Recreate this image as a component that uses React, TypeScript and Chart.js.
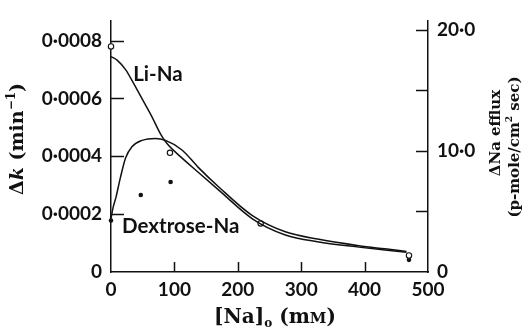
import React, { useEffect, useRef } from 'react';
import { Chart, registerables } from 'chart.js';
Chart.register(...registerables);

// ---- data ----
const liNaCurveX = [0, 10, 23, 35, 50, 65, 78, 88, 110, 138, 170, 223, 275, 328, 391, 432, 466];
const liNaCurveY = [0.000745, 0.000732, 0.0007, 0.000655, 0.000595, 0.000535, 0.000478, 0.000445, 0.000398, 0.000344, 0.000283, 0.000184, 0.000128, 0.000104, 0.000086, 0.000076, 0.000068];
const dexCurveX = [0, 3, 8, 15, 23, 33, 49, 70, 86, 112, 138, 170, 223, 275, 328, 391, 432, 466];
const dexCurveY = [0.000185, 0.00022, 0.00026, 0.000328, 0.000394, 0.000433, 0.000455, 0.000462, 0.000455, 0.000422, 0.000361, 0.000294, 0.000195, 0.000139, 0.000113, 0.000091, 0.00008, 0.000071];
const liNaPointsX = [0, 93, 236, 470];
const liNaPointsY = [0.00078, 0.000412, 0.000168, 0.000057];
const dexPointsX = [0, 47, 94, 236, 470];
const dexPointsY = [0.000178, 0.000266, 0.000311, 0.000168, 0.000042];

const xTicks = [0, 100, 200, 300, 400, 500];
const xTickLabels = ['0', '100', '200', '300', '400', '500'];
const xTickMarks = [100, 200, 300, 400];
const leftTicks = [0, 0.0002, 0.0004, 0.0006, 0.0008];
const leftTickLabels = ['0', '0·0002', '0·0004', '0·0006', '0·0008'];
const leftTickMarks = [0.0002, 0.0004, 0.0006, 0.0008];
const rightTicks = [0, 10, 20];
const rightTickLabels = ['0', '10·0', '20·0'];
const rightTickMarks = [5, 10, 15, 20];

const xMax = 500;
const leftMax = 0.00087;
const rightMax = 20.79;

const INK = '#111';
const SANS = 'Lato, "Open Sans", sans-serif';
const SERIF = '"DejaVu Serif", "Liberation Serif", serif';

type Piece = { t: string; font: string; dy?: number };

function drawPieces(ctx: CanvasRenderingContext2D, pieces: Piece[], cx: number, cy: number, rot: number) {
  ctx.save();
  ctx.translate(cx, cy);
  ctx.rotate(rot);
  ctx.textBaseline = 'middle';
  ctx.textAlign = 'left';
  let total = 0;
  const widths = pieces.map((p) => {
    ctx.font = p.font;
    const w = ctx.measureText(p.t).width;
    total += w;
    return w;
  });
  let x = -total / 2;
  pieces.forEach((p, i) => {
    ctx.font = p.font;
    ctx.fillText(p.t, x, p.dy || 0);
    x += widths[i];
  });
  ctx.restore();
}

const decorPlugin = {
  id: 'decor',
  afterDraw(chart: any) {
    const { ctx, chartArea } = chart;
    const xs = chart.scales.x;
    const ys = chart.scales.y;
    const y2 = chart.scales.y2;
    ctx.save();
    ctx.strokeStyle = INK;
    ctx.lineWidth = 1.5;
    ctx.beginPath();
    leftTickMarks.forEach((v) => {
      const py = Math.round(ys.getPixelForValue(v)) + 0.5;
      ctx.moveTo(chartArea.left, py);
      ctx.lineTo(chartArea.left + 13, py);
    });
    rightTickMarks.forEach((v) => {
      const py = Math.round(y2.getPixelForValue(v)) + 0.5;
      ctx.moveTo(chartArea.right, py);
      ctx.lineTo(chartArea.right - 12, py);
    });
    xTickMarks.forEach((v) => {
      const px = Math.round(xs.getPixelForValue(v)) + 0.5;
      ctx.moveTo(px, chartArea.bottom);
      ctx.lineTo(px, chartArea.bottom - 10);
    });
    ctx.stroke();

    ctx.fillStyle = INK;
    ctx.textAlign = 'center';
    ctx.textBaseline = 'middle';
    ctx.font = `bold 20.5px ${SANS}`;
    ctx.fillText('Li-Na', xs.getPixelForValue(74), ys.getPixelForValue(0.000684));
    ctx.fillText('Dextrose-Na', xs.getPixelForValue(110), ys.getPixelForValue(0.000159));

    const bold = (s: number) => `bold ${s}px ${SERIF}`;
    drawPieces(ctx, [
      { t: 'Δ', font: bold(19) },
      { t: 'k', font: `italic bold 19px ${SERIF}` },
      { t: ' (min', font: bold(19) },
      { t: '−1', font: bold(12), dy: -6 },
      { t: ')', font: bold(19) },
    ], 18, 139, -Math.PI / 2);

    drawPieces(ctx, [{ t: 'ΔNa efflux', font: bold(15) }], 496, 133, -Math.PI / 2);
    drawPieces(ctx, [
      { t: '(p-mole/cm', font: bold(15) },
      { t: '2', font: bold(9), dy: -5 },
      { t: ' sec)', font: bold(15) },
    ], 515, 147, -Math.PI / 2);

    drawPieces(ctx, [
      { t: '[Na]', font: bold(20) },
      { t: 'o', font: bold(12), dy: 6 },
      { t: ' (m', font: bold(20) },
      { t: 'M', font: bold(15), dy: 1 },
      { t: ')', font: bold(20) },
    ], 275, 318, 0);
    ctx.restore();
  },
};

export default function App() {
  const ref = useRef<HTMLCanvasElement | null>(null);
  useEffect(() => {
    document.body.style.margin = '0';
    const canvas = ref.current;
    if (!canvas) return;
    const lineDs = (xsArr: number[], ysArr: number[]) => ({
      type: 'line' as const,
      data: xsArr.map((x, i) => ({ x, y: ysArr[i] })),
      borderColor: INK,
      borderWidth: 1.5,
      pointRadius: 0,
      fill: false,
      cubicInterpolationMode: 'monotone' as const,
      yAxisID: 'y',
      clip: false as any,
    });
    const chart = new Chart(canvas, {
      type: 'line',
      data: {
        datasets: [
          lineDs(liNaCurveX, liNaCurveY),
          lineDs(dexCurveX, dexCurveY),
          {
            type: 'line',
            data: liNaPointsX.map((x, i) => ({ x, y: liNaPointsY[i] })),
            showLine: false,
            pointRadius: 2.7,
            pointBackgroundColor: '#fff',
            pointBorderColor: INK,
            pointBorderWidth: 1.1,
            yAxisID: 'y',
            clip: false as any,
          },
          {
            type: 'line',
            data: dexPointsX.map((x, i) => ({ x, y: dexPointsY[i] })),
            showLine: false,
            pointRadius: 2.3,
            pointBackgroundColor: INK,
            pointBorderColor: INK,
            pointBorderWidth: 0,
            yAxisID: 'y',
            clip: false as any,
          },
        ] as any,
      },
      options: {
        animation: false,
        responsive: false,
        events: [],
        layout: { padding: { top: 10, left: 0, right: 0, bottom: 0 } },
        plugins: { legend: { display: false }, tooltip: { enabled: false } },
        scales: {
          x: {
            type: 'linear',
            position: 'bottom',
            min: 0,
            max: xMax,
            afterBuildTicks: (s: any) => { s.ticks = xTicks.map((v) => ({ value: v })); },
            afterFit: (s: any) => { s.height = 58; },
            ticks: {
              callback: (_v: any, i: number) => xTickLabels[i],
              color: INK,
              font: { family: SANS, size: 19, weight: 'bold' },
              padding: 6,
              maxRotation: 0,
            },
            grid: { display: false, drawTicks: false },
            border: { display: true, color: INK, width: 1.5 },
          },
          y: {
            type: 'linear',
            position: 'left',
            min: 0,
            max: leftMax,
            afterBuildTicks: (s: any) => { s.ticks = leftTicks.map((v) => ({ value: v })); },
            afterFit: (s: any) => { s.width = 111; },
            ticks: {
              callback: (_v: any, i: number) => leftTickLabels[i],
              color: INK,
              font: { family: SANS, size: 19, weight: 'bold' },
              padding: 9,
            },
            grid: { display: false, drawTicks: false },
            border: { display: true, color: INK, width: 1.5 },
          },
          y2: {
            type: 'linear',
            position: 'right',
            min: 0,
            max: rightMax,
            afterBuildTicks: (s: any) => { s.ticks = rightTicks.map((v) => ({ value: v })); },
            afterFit: (s: any) => { s.width = 97; },
            ticks: {
              callback: (_v: any, i: number) => rightTickLabels[i],
              color: INK,
              font: { family: SANS, size: 19, weight: 'bold' },
              padding: 9,
            },
            grid: { display: false, drawTicks: false },
            border: { display: true, color: INK, width: 1.5 },
          },
        },
      } as any,
      plugins: [decorPlugin],
    });
    return () => chart.destroy();
  }, []);
  return (
    <div style={{ width: 525, height: 330, background: '#fff' }}>
      <canvas ref={ref} width={525} height={330} style={{ display: 'block' }} />
    </div>
  );
}
